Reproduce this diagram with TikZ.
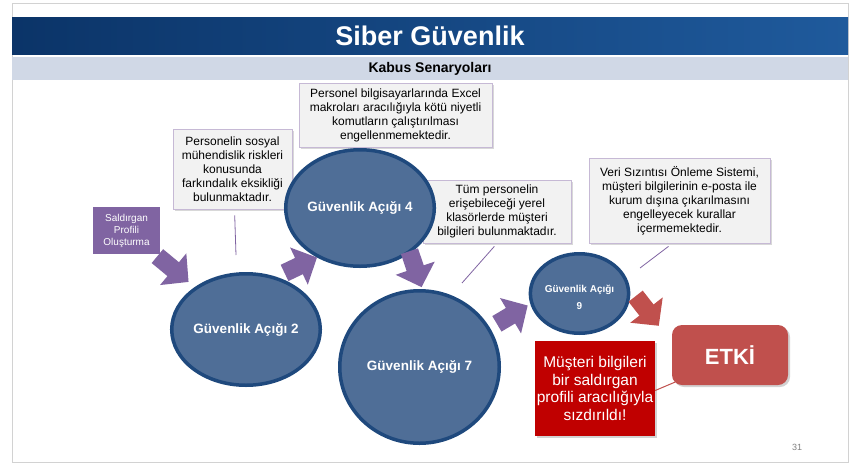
\documentclass[tikz,border=0pt]{standalone}
\usepackage{fontspec}
\setmainfont{Liberation Sans}
\usepackage{tikz}
\usetikzlibrary{shapes.geometric, arrows.meta, positioning, shadows}

\definecolor{titleblue}{HTML}{0B3468}
\definecolor{titleblueR}{HTML}{1F5A9C}
\definecolor{subbar}{HTML}{D0D8E6}
\definecolor{flawfill}{HTML}{4F6E97}
\definecolor{flawline}{HTML}{1F497D}
\definecolor{purp}{HTML}{8064A2}
\definecolor{calloutfill}{HTML}{F2F2F2}
\definecolor{impactred}{HTML}{C0504D}
\definecolor{leakred}{HTML}{C00000}

\begin{document}
\begin{tikzpicture}[x=1pt, y=-1pt,
  titlebar/.style={rectangle, minimum width=836, minimum height=37, inner sep=0pt,
                   left color=titleblue, middle color=titleblue, right color=titleblueR,
                   text=white, font=\bfseries\fontsize{27}{30}\selectfont},
  subbarbox/.style={rectangle, fill=subbar, minimum width=836, minimum height=23,
                    inner sep=0pt, font=\bfseries\fontsize{14}{16}\selectfont},
  profilebox/.style={rectangle, fill=purp, minimum width=67, minimum height=47,
                     inner sep=0pt, align=center, text=white,
                     font=\fontsize{10}{12}\selectfont},
  callout/.style={rectangle, draw=purp!45, line width=0.7pt, fill=calloutfill,
                  drop shadow={opacity=0.3, shadow xshift=2pt, shadow yshift=-2pt},
                  align=center, inner sep=2pt, font=\fontsize{12}{14}\selectfont},
  flaw/.style={ellipse, draw=flawline, line width=3.5pt, fill=flawfill, inner sep=0pt,
               align=center, text=white, font=\bfseries\fontsize{13.5}{16}\selectfont},
  leakbox/.style={rectangle, fill=leakred, minimum width=120, minimum height=95,
                  inner sep=0pt, align=center, text=white,
                  drop shadow={opacity=0.35, shadow xshift=2pt, shadow yshift=-2pt},
                  font=\fontsize{15.5}{17.7}\selectfont},
  impactbox/.style={rectangle, rounded corners=10pt, fill=impactred,
                    minimum width=116, minimum height=60, text=white,
                    drop shadow={opacity=0.35, shadow xshift=2pt, shadow yshift=-2pt},
                    font=\bfseries\fontsize{22}{26}\selectfont},
  bigarrow/.style={line width=18pt, draw=purp, -{Triangle[length=20pt, width=40pt]}},
  redarrow/.style={bigarrow, draw=impactred},
  pointer/.style={draw=purp, line width=0.8pt},
]
  \useasboundingbox (0,0) rectangle (858,469);
  \fill[white] (0,0) rectangle (858,469);
  \draw[gray!35, line width=1pt] (12,3) rectangle (848,462);

  % header
  \node[titlebar] (title) at (430,35.5) {Siber Güvenlik};
  \node[subbarbox] (subtitle) at (430,68.5) {Kabus Senaryoları};

  % callouts
  \node[callout, minimum width=119, minimum height=80] (c1) at (232.5,169)
    {Personelin sosyal\\mühendislik riskleri\\konusunda\\farkındalık eksikliği\\bulunmaktadır.};
  \node[callout, minimum width=193, minimum height=64] (c2) at (395.5,115)
    {Personel bilgisayarlarında Excel\\makroları aracılığıyla kötü niyetli\\komutların çalıştırılması\\engellenmemektedir.};
  \node[callout, minimum width=148, minimum height=63] (c3) at (497,211.5)
    {Tüm personelin\\erişebileceği yerel\\klasörlerde müşteri\\bilgileri bulunmaktadır.};
  \node[callout, minimum width=181, minimum height=85] (c4) at (679.5,200.5)
    {Veri Sızıntısı Önleme Sistemi,\\müşteri bilgilerinin e-posta ile\\kurum dışına çıkarılmasını\\engelleyecek kurallar\\içermemektedir.};

  \coordinate (p1) at (236,255);
  \coordinate (p3) at (462,283);
  \coordinate (p4) at (640,268);
  \draw[pointer, shorten <=6pt] ([xshift=2pt]c1.south) -- (p1);
  \draw[pointer, shorten <=4pt] (c3.south) -- (p3);
  \draw[pointer, shorten <=5pt] ([xshift=-7pt]c4.south) -- (p4);

  % scenario chain
  \node[profilebox] (profil) at (126.5,230.5) {Saldırgan\\Profili\\Oluşturma};
  \node[flaw, minimum width=118.5, minimum height=111.5] (ga2) at (246,329.5) {Güvenlik Açığı 2};
  \node[flaw, minimum width=120.5, minimum height=116.5] (ga4) at (360,208) {Güvenlik Açığı 4};
  \node[flaw, minimum width=159.5, minimum height=152.5] (ga7) at (419.5,367) {Güvenlik Açığı 7};
  \node[flaw, minimum width=81.5, minimum height=79.5,
        font=\bfseries\fontsize{10}{17}\selectfont] (ga9) at (579.5,293.5)
    {\rule{0pt}{16pt}Güvenlik Açığı\\9};

  \node[leakbox] (leak) at (595,388.5)
    {Müşteri bilgileri\\bir saldırgan\\profili aracılığıyla\\sızdırıldı!};
  \node[impactbox] (etki) at (730,355) {ETKİ};

  \draw[bigarrow, shorten <=3pt, shorten >=8pt] (profil) -- (ga2);
  \draw[bigarrow, shorten <=9pt] (ga2.60) -- (ga4.229);
  \draw[bigarrow, shorten <=-2pt, shorten >=2pt] (ga4.318) -- (ga7.88);
  \draw[bigarrow, shorten <=8pt, shorten >=3pt] (ga7.29) -- (ga9.192);
  \draw[redarrow, shorten <=9pt] (ga9.5) -- ([xshift=-13pt,yshift=-1pt]etki.north west);

  \draw[impactred, line width=1pt] ([yshift=-2pt]leak.east) -- ([xshift=3pt,yshift=3pt]etki.south west);

  \node[text=gray, font=\fontsize{9}{10}\selectfont] (pnum) at (797,447) {31};
\end{tikzpicture}
\end{document}
